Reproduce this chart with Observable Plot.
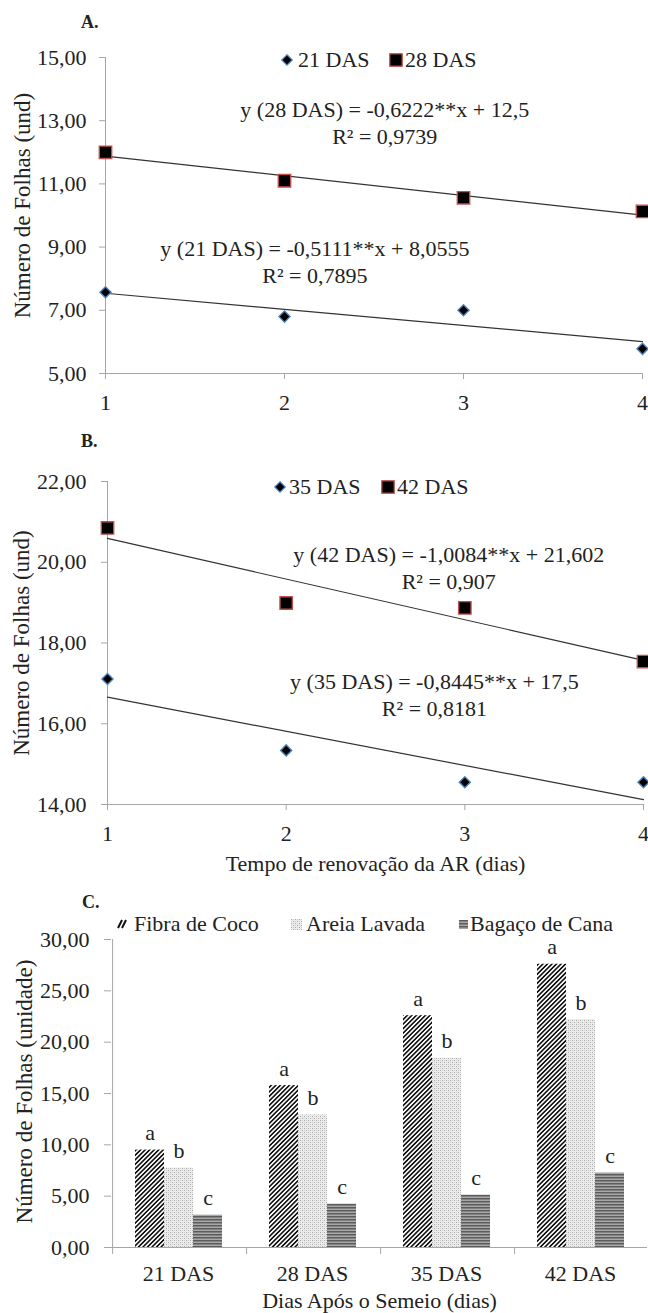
<!DOCTYPE html>
<html><head><meta charset="utf-8">
<script src="https://cdn.jsdelivr.net/npm/d3@7"></script>
<script src="https://cdn.jsdelivr.net/npm/@observablehq/plot@0.6"></script>
<style>
body{margin:0;background:#fff;}
#root{position:relative;width:648px;height:1313px;overflow:hidden;font-family:"Liberation Serif","Times New Roman",serif;color:#222;background:#fff;}
.panel{position:absolute;left:0;}
.ptitle{position:absolute;font-weight:bold;font-size:18px;line-height:18px;white-space:nowrap;}
.ltxt{position:absolute;font-size:22px;line-height:18px;white-space:nowrap;}
.lsym{position:absolute;overflow:visible;}
</style></head>
<body>
<svg width="0" height="0" style="position:absolute">
  <defs>
    <pattern id="pFibra" patternUnits="userSpaceOnUse" width="3.2" height="10" patternTransform="rotate(45)">
      <rect width="3.2" height="10" fill="#fff"/>
      <rect width="1.6" height="10" fill="#111"/>
    </pattern>
    <pattern id="pAreia" patternUnits="userSpaceOnUse" width="4" height="4">
      <rect width="4" height="4" fill="#ececec"/>
      <rect x="0" y="0" width="1" height="1" fill="#a8a8a8"/>
      <rect x="2" y="2" width="1" height="1" fill="#a8a8a8"/>
      <rect x="2" y="0" width="1" height="1" fill="#cfcfcf"/>
      <rect x="0" y="2" width="1" height="1" fill="#cfcfcf"/>
    </pattern>
    <pattern id="pBagaco" patternUnits="userSpaceOnUse" width="4" height="3">
      <rect width="4" height="3" fill="#a8a8a8"/>
      <rect width="4" height="1.5" fill="#5c5c5c"/>
    </pattern>
  </defs>
</svg>
<div id="root"></div>
<script>
// ---------- DATA ----------
// Panel A
const daysA = [1, 2, 3, 4];
const das21 = [7.57, 6.80, 7.00, 5.78];
const das28 = [12.00, 11.10, 10.56, 10.13];
const trendX = [1, 4];
const trend21 = [7.54, 6.01];
const trend28 = [11.88, 10.01];
const eqA28 = "y (28 DAS) = -0,6222**x + 12,5\nR² = 0,9739";
const eqA21 = "y (21 DAS) = -0,5111**x + 8,0555\nR² = 0,7895";
const ticksA = [5, 7, 9, 11, 13, 15];
// Panel B
const daysB = [1, 2, 3, 4];
const das35 = [17.11, 15.34, 14.55, 14.55];
const das42 = [20.85, 18.99, 18.87, 17.54];
const trend35 = [16.66, 14.12];
const trend42 = [20.59, 17.57];
const eqB42 = "y (42 DAS) = -1,0084**x + 21,602\nR² = 0,907";
const eqB35 = "y (35 DAS) = -0,8445**x + 17,5\nR² = 0,8181";
const ticksB = [14, 16, 18, 20, 22];
const xTicks = [1, 2, 3, 4];
const yTitleAB = "Número de Folhas (und)";
const xTitleB = "Tempo de renovação da AR (dias)";
// Panel C
const catsC = ["21 DAS", "28 DAS", "35 DAS", "42 DAS"];
const seriesC = ["Fibra de Coco", "Areia Lavada", "Bagaço de Cana"];
const fibra = [9.49, 15.77, 22.58, 27.59];
const areia = [7.74, 12.92, 18.44, 22.19];
const bagaco = [3.14, 4.22, 5.10, 7.25];
const lettersC = ["a", "b", "c"];
const ticksC = [0, 5, 10, 15, 20, 25, 30];
const yTitleC = "Número de Folhas (unidade)";
const xTitleC = "Dias Após o Semeio (dias)";

// ---------- STYLE ----------
const FONT = '"Liberation Serif","Times New Roman",serif';
const AX = "#a6a6a6";
const TXT = "#222";
const BLUE = "#4f81bd";
const RED = "#c0504d";
const fmt = d => d.toFixed(2).replace(".", ",");
const root = document.getElementById("root");

function place(node, top) {
  const d = document.createElement("div");
  d.className = "panel";
  d.style.top = top + "px";
  d.appendChild(node);
  root.appendChild(d);
}
function title(t, left, baseline) {
  const d = document.createElement("div");
  d.className = "ptitle";
  d.textContent = t;
  d.style.left = left + "px";
  d.style.top = (baseline - 15) + "px";
  root.appendChild(d);
}
function ltext(t, left, cy) {
  const d = document.createElement("div");
  d.className = "ltxt";
  d.textContent = t;
  d.style.left = left + "px";
  d.style.top = (cy - 9) + "px";
  root.appendChild(d);
}
function lsym(svgInner, left, cy, w, h) {
  const ns = "http://www.w3.org/2000/svg";
  const s = document.createElementNS(ns, "svg");
  s.setAttribute("class", "lsym");
  s.setAttribute("width", w); s.setAttribute("height", h);
  s.style.left = left + "px"; s.style.top = (cy - h / 2) + "px";
  s.innerHTML = svgInner;
  root.appendChild(s);
}
const diamondSym = (w) => `<path d="M${w/2},0.8 L${w-0.8},${w/2} L${w/2},${w-0.8} L0.8,${w/2}Z" fill="#000" stroke="${BLUE}" stroke-width="1.3"/>`;
const squareSym = (w) => `<rect x="0.8" y="0.8" width="${w-1.6}" height="${w-1.6}" fill="#000" stroke="${RED}" stroke-width="1.3"/>`;

function linePanel(cfg) {
  const ptsLo = cfg.days.map((d, i) => ({x: d, y: cfg.lo[i]}));
  const ptsHi = cfg.days.map((d, i) => ({x: d, y: cfg.hi[i]}));
  const trLo = trendX.map((d, i) => ({x: d, y: cfg.trLo[i]}));
  const trHi = trendX.map((d, i) => ({x: d, y: cfg.trHi[i]}));
  const marks = [
    Plot.ruleY([cfg.ydomain[0]], {stroke: AX}),
    Plot.ruleX([1], {stroke: AX}),
    Plot.axisY({ticks: cfg.yticks, tickFormat: fmt, tickSize: 6, tickPadding: cfg.ytp, stroke: AX, fill: TXT, label: null}),
    Plot.axisX({ticks: xTicks, tickFormat: d => String(d), tickSize: 6, tickPadding: 15, stroke: AX, fill: TXT, label: null}),
    Plot.line(trLo, {x: "x", y: "y", stroke: "#333", strokeWidth: 1.2}),
    Plot.line(trHi, {x: "x", y: "y", stroke: "#333", strokeWidth: 1.2}),
    Plot.dot(ptsLo, {x: "x", y: "y", symbol: "diamond2", r: 5, fill: "#000", stroke: BLUE, strokeWidth: 1.4}),
    Plot.dot(ptsHi, {x: "x", y: "y", symbol: "square", r: 7, fill: "#000", stroke: RED, strokeWidth: 1.4}),
    Plot.text([cfg.eqHi], {x: cfg.eqHiPos[0], y: cfg.eqHiPos[1], text: d => d, lineHeight: 1.23, lineAnchor: "middle", fill: TXT}),
    Plot.text([cfg.eqLo], {x: cfg.eqLoPos[0], y: cfg.eqLoPos[1], text: d => d, lineHeight: 1.23, lineAnchor: "middle", fill: TXT}),
    Plot.text([yTitleAB], {frameAnchor: "left", rotate: -90, dx: cfg.ytDx, dy: cfg.ytDy, textAnchor: "middle", lineAnchor: "middle", fontSize: 23, fill: TXT})
  ];
  if (cfg.xTitle) marks.push(Plot.text([cfg.xTitle], {frameAnchor: "bottom", dy: 59, lineAnchor: "middle", fontSize: 22, fill: TXT}));
  return Plot.plot({
    width: 648, height: cfg.height,
    marginTop: cfg.mt, marginBottom: cfg.mb, marginLeft: cfg.ml, marginRight: cfg.mr,
    style: {fontFamily: FONT, fontSize: "22px", color: TXT, background: "transparent", overflow: "visible"},
    x: {domain: [1, 4]},
    y: {domain: cfg.ydomain},
    marks
  });
}

// Panel A
place(linePanel({
  days: daysA, lo: das21, hi: das28, trLo: trend21, trHi: trend28,
  eqHi: eqA28, eqLo: eqA21, eqHiPos: [2.56, 12.96], eqLoPos: [2.17, 8.58],
  yticks: ticksA, ydomain: [5, 15], ytp: 13,
  height: 420, mt: 57, mb: 47, ml: 105, mr: 6, ytDx: -83, ytDy: -10
}), 0);

// Panel B
place(linePanel({
  days: daysB, lo: das35, hi: das42, trLo: trend35, trHi: trend42,
  eqHi: eqB42, eqLo: eqB35, eqHiPos: [2.91, 19.88], eqLoPos: [2.83, 16.74],
  yticks: ticksB, ydomain: [14, 22], ytp: 15,
  height: 460, mt: 61, mb: 76, ml: 107, mr: 5, ytDx: -86, ytDy: 0, xTitle: xTitleB
}), 420);

// Panel C
const rowsC = [];
const valsC = [fibra, areia, bagaco];
catsC.forEach((c, i) => seriesC.forEach((s, j) => rowsC.push({cat: c, series: s, value: valsC[j][i], letter: lettersC[j]})));
const plotC = Plot.plot({
  width: 648, height: 433,
  marginTop: 59, marginBottom: 66, marginLeft: 109, marginRight: 0,
  style: {fontFamily: FONT, fontSize: "22px", color: TXT, background: "transparent", overflow: "visible"},
  fx: {domain: catsC, padding: 0, label: null},
  x: {domain: seriesC, paddingInner: 0, paddingOuter: 0.75, axis: null},
  y: {domain: [0, 30]},
  color: {domain: seriesC, range: ["url(#pFibra)", "url(#pAreia)", "url(#pBagaco)"]},
  marks: [
    Plot.barY(rowsC, {fx: "cat", x: "series", y: "value", fill: "series"}),
    Plot.text(rowsC, {fx: "cat", x: "series", y: "value", text: "letter", dy: -17, lineAnchor: "middle", fill: TXT}),
    Plot.ruleY([0], {stroke: AX}),
    Plot.ruleX(catsC, {fx: d => d, x: () => seriesC[0], y1: 0, y2: 0, dx: -37.4, insetBottom: -7, stroke: AX}),
    Plot.ruleX([catsC[0]], {fx: d => d, x: () => seriesC[0], y1: 0, y2: 30, dx: -37.4, stroke: AX}),
    Plot.axisY({ticks: ticksC, tickFormat: fmt, tickSize: 7, tickPadding: 15, stroke: AX, fill: TXT, label: null}),
    Plot.axisFx({anchor: "bottom", tickSize: 0, tickPadding: 18, fill: TXT, label: null}),
    Plot.text([yTitleC], {facet: "super", frameAnchor: "left", rotate: -90, dx: -87, dy: -2, textAnchor: "middle", lineAnchor: "middle", fontSize: 23, fill: TXT}),
    Plot.text([xTitleC], {facet: "super", frameAnchor: "bottom", dy: 53, lineAnchor: "middle", fontSize: 22, fill: TXT})
  ]
});
place(plotC, 880);

// Titles
title("A.", 81, 28);
title("B.", 81, 447);
title("C.", 82, 908);

// Legend A
lsym(diamondSym(12), 281, 60, 12, 12); ltext("21 DAS", 298, 60);
lsym(squareSym(14), 389, 60, 14, 14); ltext("28 DAS", 405, 60);
// Legend B
lsym(diamondSym(12), 274, 487, 12, 12); ltext("35 DAS", 289, 487);
lsym(squareSym(14), 381, 487, 14, 14); ltext("42 DAS", 397, 487);
// Legend C
lsym(`<path d="M1,9 L5,1 M5,9 L9,1" stroke="#111" stroke-width="2"/>`, 117, 924, 11, 10);
ltext(seriesC[0], 134, 924);
lsym(`<rect width="11" height="11" fill="url(#pAreia)"/>`, 291, 924, 11, 11);
ltext(seriesC[1], 306, 924);
lsym(`<rect width="9" height="9" fill="url(#pBagaco)"/>`, 459, 924, 9, 9);
ltext(seriesC[2], 470, 924);
</script>
</body></html>
